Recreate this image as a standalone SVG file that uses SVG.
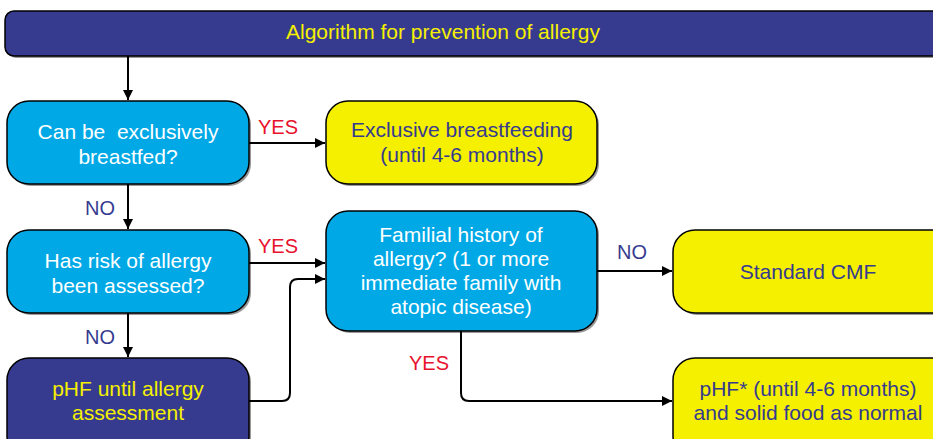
<svg xmlns="http://www.w3.org/2000/svg" width="933" height="439" viewBox="0 0 933 439">
<defs>
<marker id="ah" viewBox="0 0 10 10" refX="10" refY="5" markerWidth="10" markerHeight="10" markerUnits="userSpaceOnUse" orient="auto"><path d="M0,0 L10,5 L0,10 z" fill="#000"/></marker>
<style>
text{font-family:"Liberation Sans",Arial,sans-serif;font-size:21px;text-anchor:middle;white-space:pre}
.lb{font-size:20px}
.sh{fill:#555;opacity:0.6}
.cy{fill:#00A9E6;stroke:#000;stroke-width:1.5}
.ye{fill:#F5F000;stroke:#000;stroke-width:1.5}
.db{fill:#363B8F;stroke:#000;stroke-width:1.5}
.tw{fill:#fff}
.ty{fill:#F5F000}
.tb{fill:#363B8F}
.yes{fill:#E8112D}
.no{fill:#363B8F}
.c{fill:none;stroke:#000;stroke-width:2;marker-end:url(#ah)}
</style>
</defs>
<g id="header">
<rect class="sh" x="7" y="13" width="940" height="45" rx="9"/>
<rect class="db" x="5" y="11" width="940" height="45" rx="9"/>
<text class="ty" x="443" y="39">Algorithm for prevention of allergy</text>
</g>
<g id="n1">
<rect class="sh" x="9" y="103" width="242" height="83" rx="22"/>
<rect class="cy" x="7" y="101" width="242" height="83" rx="22"/>
<text class="tw" x="128" y="139" xml:space="preserve">Can be  exclusively</text>
<text class="tw" x="128" y="164">breastfed?</text>
</g>
<g id="n2">
<rect class="sh" x="328" y="103" width="271" height="83" rx="22"/>
<rect class="ye" x="326" y="101" width="271" height="83" rx="22"/>
<text class="tb" x="462" y="137">Exclusive breastfeeding</text>
<text class="tb" x="462" y="162">(until 4-6 months)</text>
</g>
<g id="n3">
<rect class="sh" x="9" y="232" width="242" height="83" rx="22"/>
<rect class="cy" x="7" y="230" width="242" height="83" rx="22"/>
<text class="tw" x="128" y="268">Has risk of allergy</text>
<text class="tw" x="128" y="293">been assessed?</text>
</g>
<g id="n4">
<rect class="sh" x="328" y="213" width="271" height="120" rx="22"/>
<rect class="cy" x="326" y="211" width="271" height="120" rx="22"/>
<text class="tw" x="461" y="242">Familial history of</text>
<text class="tw" x="461" y="266">allergy? (1 or more</text>
<text class="tw" x="461" y="290">immediate family with</text>
<text class="tw" x="461" y="314">atopic disease)</text>
</g>
<g id="n5">
<rect class="sh" x="675" y="232" width="280" height="83" rx="22"/>
<rect class="ye" x="673" y="230" width="280" height="83" rx="22"/>
<text class="tb" x="808" y="279">Standard CMF</text>
</g>
<g id="n6">
<rect class="sh" x="9" y="360" width="242" height="100" rx="22"/>
<rect class="db" x="7" y="358" width="242" height="100" rx="22"/>
<text class="ty" x="128" y="396">pHF until allergy</text>
<text class="ty" x="128" y="420">assessment</text>
</g>
<g id="n7">
<rect class="sh" x="675" y="360" width="280" height="100" rx="22"/>
<rect class="ye" x="673" y="358" width="280" height="100" rx="22"/>
<text class="tb" x="808" y="396">pHF* (until 4-6 months)</text>
<text class="tb" x="808" y="420">and solid food as normal</text>
</g>
<g id="connectors">
<path class="c" d="M128,56 V100"/>
<path class="c" d="M249,143 H325"/>
<path class="c" d="M128,184 V229"/>
<path class="c" d="M249,263 H325"/>
<path class="c" d="M597,271 H672"/>
<path class="c" d="M128,313 V357"/>
<path class="c" d="M249,401 H282 Q290,401 290,393 V287 Q290,279 298,279 H325"/>
<path class="c" d="M461,331 V393 Q461,401 469,401 H672"/>
<text class="yes lb" x="278" y="134">YES</text>
<text class="yes lb" x="278" y="253">YES</text>
<text class="yes lb" x="429" y="370">YES</text>
<text class="no lb" x="100" y="215">NO</text>
<text class="no lb" x="100" y="344">NO</text>
<text class="no lb" x="632" y="259">NO</text>
</g>
</svg>
